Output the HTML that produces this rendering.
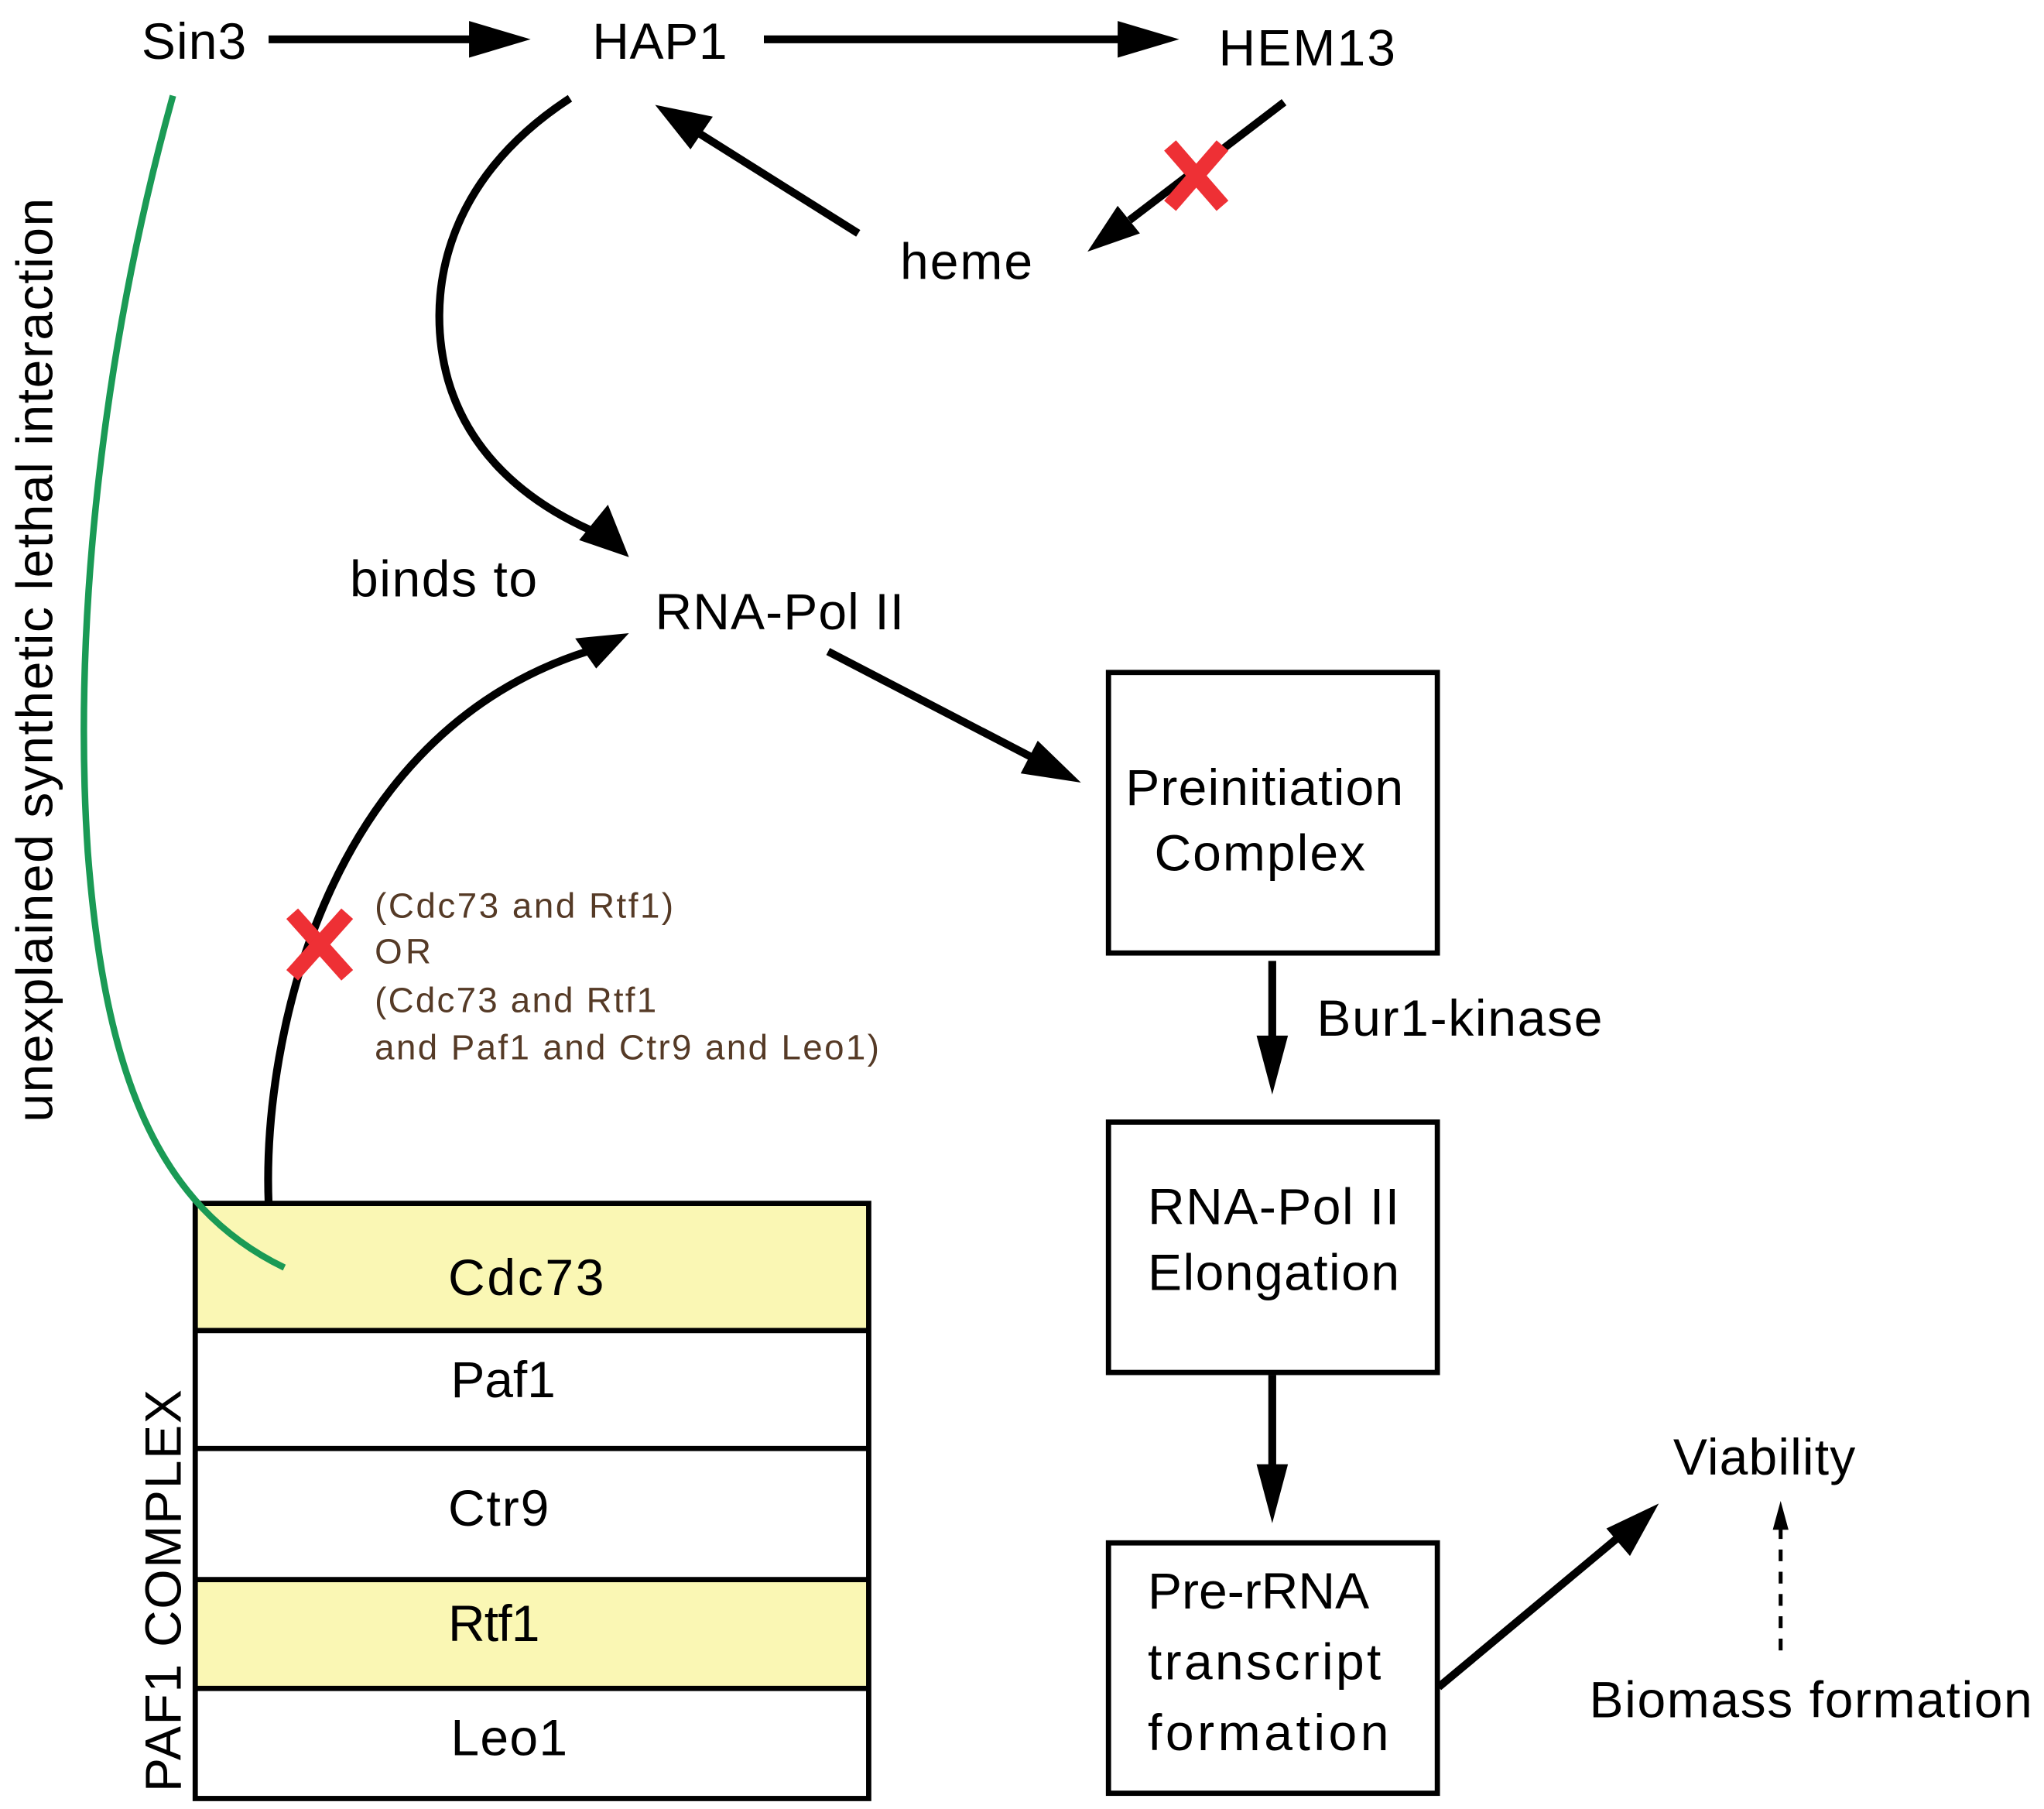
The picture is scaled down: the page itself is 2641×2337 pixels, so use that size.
<!DOCTYPE html>
<html><head><meta charset="utf-8"><style>
html,body{margin:0;padding:0;background:#fff;}
svg{display:block;}
text{font-family:"Liberation Sans",Arial,sans-serif;fill:#000;}
</style></head><body>
<svg width="2641" height="2337" viewBox="0 0 1560 1380" preserveAspectRatio="none" xmlns="http://www.w3.org/2000/svg">
<g stroke="#000" stroke-width="6" fill="none">
<line x1="205" y1="30" x2="365" y2="30"/>
<line x1="583" y1="30" x2="858" y2="30"/>
<line x1="980" y1="78" x2="862" y2="168"/>
<line x1="655" y1="178" x2="534" y2="102"/>
<path d="M435,75 C335,140 325,230 342,290 C358,345 400,382 452,405"/>
<path d="M205,918 C200,790 250,560 448,497"/>
<line x1="632" y1="497" x2="790" y2="579"/>
<line x1="971" y1="733" x2="971" y2="795"/>
<line x1="971" y1="1049" x2="971" y2="1122"/>
<line x1="1098" y1="1287" x2="1236" y2="1172"/>
</g>
<g fill="#000">
<polygon points="405,30 358,16 358,44"/>
<polygon points="900,30 853,16 853,44"/>
<polygon points="830,192 853,157 870,178"/>
<polygon points="500,80 544,89 527,114"/>
<polygon points="480,425 442,412 464,385"/>
<polygon points="480,483 455,510 439,487"/>
<polygon points="825,597 779,590 792,565"/>
<polygon points="971,835 959,790 983,790"/>
<polygon points="971,1162 959,1117 983,1117"/>
<polygon points="1266,1147 1244,1187 1226,1166"/>
<polygon points="1359,1145 1353,1167 1365,1167"/>
</g>
<line x1="1359" y1="1165" x2="1359" y2="1260" stroke="#000" stroke-width="3" stroke-dasharray="9,8"/>
<!-- PAF table -->
<rect x="150" y="919" width="512" height="96" fill="#faf7b4"/>
<rect x="150" y="1205" width="512" height="83" fill="#faf7b4"/>
<g stroke="#000" stroke-width="4" fill="none">
<rect x="149" y="918" width="514" height="454"/>
<line x1="149" y1="1015" x2="663" y2="1015"/>
<line x1="149" y1="1105" x2="663" y2="1105"/>
<line x1="149" y1="1205" x2="663" y2="1205"/>
<line x1="149" y1="1288" x2="663" y2="1288"/>
<rect x="846" y="513" width="251" height="214"/>
<rect x="846" y="856" width="251" height="191"/>
<rect x="846" y="1177" width="251" height="191"/>
</g>
<!-- green curve -->
<path d="M132,73 C80,260 55,470 67,650 C80,820 120,920 217,967" stroke="#1a9a55" stroke-width="5" fill="none"/>
<!-- red X's -->
<g stroke="#ee3035" stroke-width="12">
<line x1="893" y1="111" x2="933" y2="157"/><line x1="933" y1="111" x2="893" y2="157"/>
<line x1="223" y1="697" x2="265" y2="744"/><line x1="265" y1="697" x2="223" y2="744"/>
</g>
<g font-size="39">
<text x="108" y="45" textLength="80">Sin3</text>
<text x="452" y="45" textLength="103">HAP1</text>
<text x="930" y="50" textLength="135">HEM13</text>
<text x="687" y="213" textLength="101">heme</text>
<text x="267" y="455" textLength="143">binds to</text>
<text x="500" y="480" textLength="190">RNA-Pol II</text>
<text x="859" y="614" textLength="212">Preinitiation</text>
<text x="881" y="664" textLength="161">Complex</text>
<text x="1005" y="790" textLength="218">Bur1-kinase</text>
<text x="876" y="934" textLength="192">RNA-Pol II</text>
<text x="876" y="984" textLength="192">Elongation</text>
<text x="876" y="1227" textLength="169">Pre-rRNA</text>
<text x="876" y="1281" textLength="178">transcript</text>
<text x="876" y="1335" textLength="184">formation</text>
<text x="1277" y="1125" textLength="139">Viability</text>
<text x="1213" y="1310" textLength="338">Biomass formation</text>
<text x="342" y="988" textLength="119">Cdc73</text>
<text x="344" y="1066" textLength="80">Paf1</text>
<text x="342" y="1164" textLength="77">Ctr9</text>
<text x="342" y="1252" textLength="70">Rtf1</text>
<text x="344" y="1339" textLength="89">Leo1</text>
<text transform="translate(138,1367) rotate(-90)" textLength="307">PAF1 COMPLEX</text>
<text transform="translate(40,856) rotate(-90)" textLength="705">unexplained synthetic lethal interaction</text>
</g>
<g font-size="27">
<text x="286" y="700" textLength="228" style="fill:#553a26">(Cdc73 and Rtf1)</text>
<text x="286" y="735" textLength="43" style="fill:#553a26">OR</text>
<text x="286" y="772" textLength="215" style="fill:#553a26">(Cdc73 and Rtf1</text>
<text x="286" y="808" textLength="385" style="fill:#553a26">and Paf1 and Ctr9 and Leo1)</text>
</g>
</svg>
</body></html>
